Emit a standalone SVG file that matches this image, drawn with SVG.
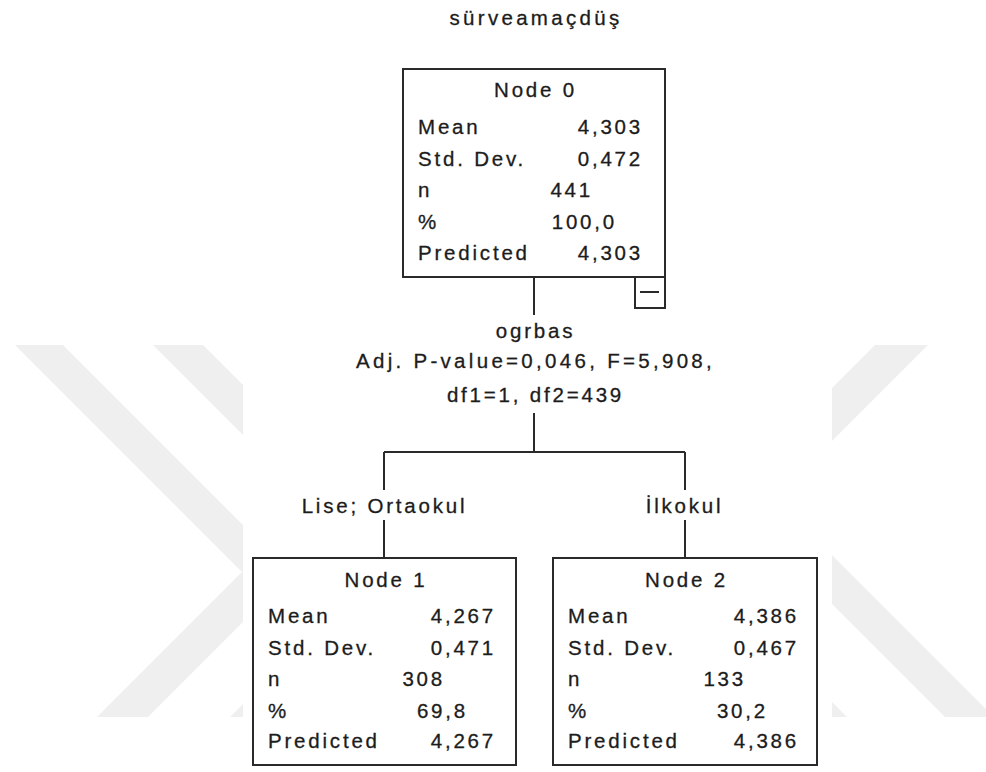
<svg xmlns="http://www.w3.org/2000/svg" width="986" height="772" viewBox="0 0 986 772">
<style>
.t{font-family:"Liberation Sans",Arial,sans-serif;font-size:20.5px;fill:#1c1c1c;stroke:#1c1c1c;stroke-width:0.3px;letter-spacing:2.8px}
.m{text-anchor:middle}
.e{text-anchor:end}
.box{fill:#ffffff;stroke:#2a2a2a;stroke-width:2}
.ln{fill:none;stroke:#2a2a2a;stroke-width:2}
.wm{fill:#efefef;stroke:none}
</style>
<rect x="0" y="0" width="986" height="772" fill="#ffffff"/>
<g id="watermark">
<polygon class="wm" points="15,345 63,345 243,525 243,622 148,717 97,717 242,572"/>
<polygon class="wm" points="153,345 203,345 243,385 243,435"/>
<polygon class="wm" points="230,717 243,704 243,717"/>
<polygon class="wm" points="875,345 928,345 832,441 832,388"/>
<polygon class="wm" points="832,555 994,717 945,717 832,604"/>
<polygon class="wm" points="832,702 847,717 832,717"/>
</g>
<text class="t m" x="536" y="25" style="letter-spacing:3.3px">sürveamaçdüş</text>
<g id="connectors">
<path class="ln" d="M534,277 V315 M534,413 V452 M384,452 H685 M384,452 V490 M384,520 V558 M685,452 V490 M685,520 V558"/>
<text class="t m" x="535.5" y="338">ogrbas</text>
<text class="t m" x="535.5" y="368" style="letter-spacing:3.3px">Adj. P-value=0,046, F=5,908,</text>
<text class="t m" x="535.5" y="402">df1=1, df2=439</text>
<text class="t m" x="384.5" y="513">Lise; Ortaokul</text>
<text class="t m" x="684.5" y="513">İlkokul</text>
</g>
<g id="node0">
<rect class="box" x="403" y="69" width="262" height="208"/>
<rect class="box" x="635" y="277" width="30" height="31"/>
<line class="ln" x1="640" y1="292" x2="659" y2="292"/>
<text class="t m" x="535.5" y="97">Node 0</text>
<text class="t" x="418" y="134">Mean</text>
<text class="t e" x="643" y="134">4,303</text>
<text class="t" x="418" y="166">Std. Dev.</text>
<text class="t e" x="643" y="166">0,472</text>
<text class="t" x="418" y="197">n</text>
<text class="t e" x="593" y="197">441</text>
<text class="t" x="418" y="229">%</text>
<text class="t e" x="617" y="229">100,0</text>
<text class="t" x="418" y="260">Predicted</text>
<text class="t e" x="643" y="260">4,303</text>
</g>
<g id="node1">
<rect class="box" x="253" y="558" width="263" height="207"/>
<text class="t m" x="386" y="587">Node 1</text>
<text class="t" x="268" y="623">Mean</text>
<text class="t e" x="496" y="623">4,267</text>
<text class="t" x="268" y="655">Std. Dev.</text>
<text class="t e" x="496" y="655">0,471</text>
<text class="t" x="268" y="686">n</text>
<text class="t e" x="445" y="686">308</text>
<text class="t" x="268" y="718">%</text>
<text class="t e" x="468" y="718">69,8</text>
<text class="t" x="268" y="748">Predicted</text>
<text class="t e" x="496" y="748">4,267</text>
</g>
<g id="node2">
<rect class="box" x="553" y="558" width="264" height="207"/>
<text class="t m" x="686.5" y="587">Node 2</text>
<text class="t" x="568" y="623">Mean</text>
<text class="t e" x="799" y="623">4,386</text>
<text class="t" x="568" y="655">Std. Dev.</text>
<text class="t e" x="799" y="655">0,467</text>
<text class="t" x="568" y="686">n</text>
<text class="t e" x="746" y="686">133</text>
<text class="t" x="568" y="718">%</text>
<text class="t e" x="768" y="718">30,2</text>
<text class="t" x="568" y="748">Predicted</text>
<text class="t e" x="799" y="748">4,386</text>
</g>
</svg>
